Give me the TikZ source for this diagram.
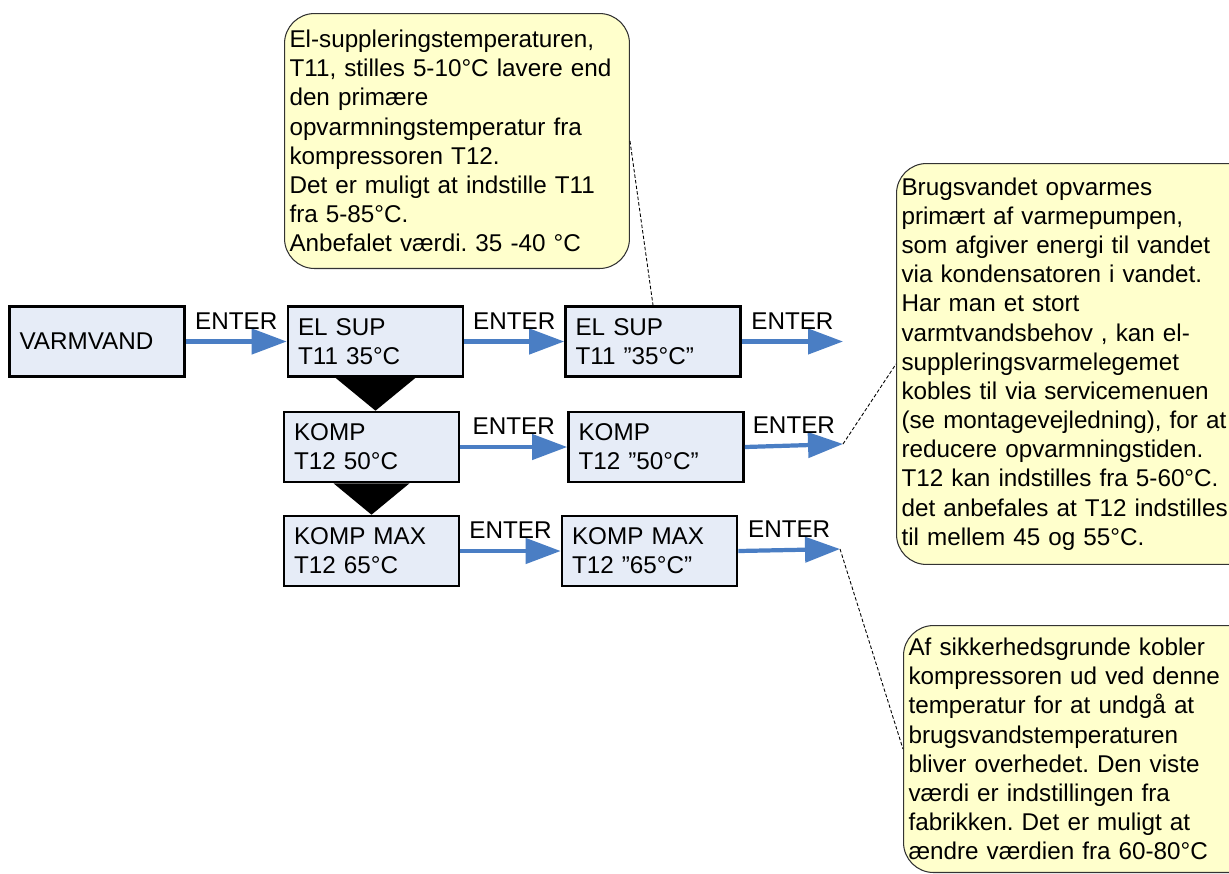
\documentclass[tikz,border=0pt]{standalone}
\usepackage{fontspec}
\setmainfont{Liberation Sans}
\frenchspacing
\usetikzlibrary{arrows.meta,calc,positioning}
\definecolor{boxfill}{RGB}{230,236,247}
\definecolor{notefill}{RGB}{255,255,204}
\definecolor{arrowblue}{RGB}{74,126,196}
\tikzset{%
	menubox/.style = {draw, line width=1.5pt, fill=boxfill, minimum width=3.5cm, minimum height=1.4cm, text width=3.1cm, inner xsep=0.2cm, align=left},
	note/.style    = {draw=black!80, line width=0.6pt, fill=notefill, rounded corners=0.6cm, inner xsep=0.1cm, align=left, anchor=north west},
	enter/.style   = {draw=arrowblue, line width=2.4pt, -{Triangle[length=0.7cm,width=0.5cm]}},
	leader/.style  = {draw, line width=0.5pt, dash pattern=on 2pt off 1.2pt},
	lbl/.style     = {above, inner sep=0.2cm},
}

\begin{document}
\begin{tikzpicture}[x=0.02cm,y=-0.02cm,font=\fontsize{13.8}{16.6}\selectfont]
		\clip (0,0) rectangle (1229,873);
		
		% menu boxes
		\node[menubox] (varm)   at (97,341.5)  {VARMVAND};
		\node[menubox] (elsupA) at (375.5,341.5) {EL SUP\\T11 35°C};
		\node[menubox] (kompA)  at (371.5,447) {KOMP\\T12 50°C};
		\node[menubox] (kmaxA)  at (371.5,551) {KOMP MAX\\T12 65°C};
		\node[menubox] (elsupB) at (653,341.5) {EL SUP\\T11 ”35°C”};
		\node[menubox] (kompB)  at (656,447)   {KOMP\\T12 ”50°C”};
		\node[menubox] (kmaxB)  at (649.5,551) {KOMP MAX\\T12 ”65°C”};
		
		\coordinate (e1) at (843,341.5);
		\coordinate (e2) at (843,444);
		\coordinate (e3) at (840,549);
		
		% black wedges between the boxes
		\fill ($(elsupA.south)+(-40,0)$) -- ($(elsupA.south)+(40,0)$) -- (elsupA.south |- kompA.north) -- cycle;
		\fill ($(kompA.south)+(-38,0)$) -- ($(kompA.south)+(38,0)$) -- (kompA.south |- kmaxA.north) -- cycle;
		
		% ENTER arrows
		\draw[enter] (varm.east) -- (elsupA.west) node[lbl,midway] {ENTER};
		\draw[enter] (elsupA.east) -- (elsupB.west) node[lbl,midway] {ENTER};
		\draw[enter] (kompA.east) -- (kompB.west) node[lbl,midway] {ENTER};
		\draw[enter] (kmaxA.east) -- (kmaxB.west) node[lbl,midway] {ENTER};
		\draw[enter] (elsupB.east) -- (e1) node[lbl,midway] {ENTER};
		\draw[enter] (kompB.east) -- (e2) node[lbl,midway] {ENTER};
		\draw[enter] (kmaxB.east) -- (e3) node[lbl,midway] {ENTER};
		
		% notes
		\node[note, minimum width=6.9cm, text width=6.7cm, minimum height=5.1cm] (callA) at (284,13)
			{El-suppleringstemperaturen,\\T11, stilles 5-10°C lavere end\\den primære\\opvarmningstemperatur fra\\kompressoren T12.\\Det er muligt at indstille T11\\fra 5-85°C.\\Anbefalet værdi. 35 -40 °C};
		\node[note, minimum width=7.2cm, text width=7cm, minimum height=8.02cm] (callB) at (896,163)
			{Brugsvandet opvarmes\\primært af varmepumpen,\\som afgiver energi til vandet\\via kondensatoren i vandet.\\Har man et stort\\varmtvandsbehov , kan el-\\suppleringsvarmelegemet\\kobles til via servicemenuen\\(se montagevejledning), for at\\reducere opvarmningstiden.\\T12 kan indstilles fra 5-60°C.\\det anbefales at T12 indstilles\\til mellem 45 og 55°C.};
		\node[note, minimum width=7.2cm, text width=7cm, minimum height=4.94cm] (callC) at (903,625)
			{Af sikkerhedsgrunde kobler\\kompressoren ud ved denne\\temperatur for at undgå at\\brugsvandstemperaturen\\bliver overhedet. Den viste\\værdi er indstillingen fra\\fabrikken. Det er muligt at\\ændre værdien fra 60-80°C};
		
		\draw[leader] (callA.east) -- (elsupB.north);
		\draw[leader] (e2) -- (callB.west);
		\draw[leader] (e3) -- (callC.west);
		
\end{tikzpicture}
\end{document}
